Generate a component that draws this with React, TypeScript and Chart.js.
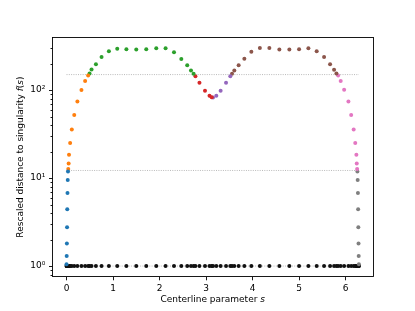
import React, { useEffect, useRef } from "react";
import { Chart, registerables } from "chart.js";

Chart.register(...registerables);

const TWO_PI = 2 * Math.PI;

// Tick values and labels
const xTicks = [0, 1, 2, 3, 4, 5, 6];
const yMajorTicks = [1, 10, 100];
const yTickLabels = ["10⁰", "10¹", "10²"];
const yMinorTicks = [0.8, 0.9, 2, 3, 4, 5, 6, 7, 8, 9, 20, 30, 40, 50, 60, 70, 80, 90, 200, 300];

// Threshold (dotted) levels
const thresholds = [1, 12.2, 150];

// Series data: centerline parameter s and rescaled distance f(s)
const sBlue = [0.0, 0.004, 0.008, 0.012, 0.016, 0.021, 0.026, 0.032];
const fBlue = [1.05, 1.3, 1.81, 2.77, 4.41, 6.76, 9.5, 11.9];

const sOrange = [0.038, 0.046, 0.054, 0.078, 0.114, 0.166, 0.234, 0.321, 0.4, 0.465];
const fOrange = [12.7, 14.6, 18.4, 25.0, 35.7, 52.0, 74.0, 100, 127, 146];

const sGreen = [0.495, 0.538, 0.632, 0.753, 0.911, 1.09, 1.287, 1.499, 1.714, 1.929, 2.129, 2.31, 2.467, 2.594, 2.675, 2.731];
const fGreen = [154, 171, 197, 237, 277, 295, 292, 289, 291, 298, 298, 269, 226, 191, 167, 153];

const sRed = [2.77, 2.857, 2.976, 3.073, 3.12];
const fRed = [144, 121, 98.5, 86, 83];

const sPurple = [3.148, 3.219, 3.312, 3.428, 3.52];
const fPurple = [82.6, 86, 98.5, 121, 144];

const sBrown = [3.557, 3.606, 3.699, 3.822, 3.972, 4.155, 4.359, 4.574, 4.789, 4.998, 5.198, 5.376, 5.535, 5.664, 5.75, 5.8];
const fBrown = [153, 167, 191, 227, 272, 301, 300, 290, 290, 292, 298, 277, 237, 197, 170, 154];

const sPink = [5.837, 5.892, 5.966, 6.058, 6.117, 6.171, 6.205, 6.229, 6.237, 6.245];
const fPink = [146, 126.5, 101, 74, 52.0, 35.7, 25.0, 18.4, 14.6, 12.7];

const sGray = [6.251, 6.257, 6.262, 6.267, 6.271, 6.275, 6.279, 6.283];
const fGray = [11.9, 9.5, 6.76, 4.41, 2.77, 1.81, 1.3, 1.05];

const sAll = [...sBlue, ...sOrange, ...sGreen, ...sRed, ...sPurple, ...sBrown, ...sPink, ...sGray];

const FONT = '"DejaVu Sans", sans-serif';

function pts(s: number[], f: number[]) {
  return s.map((v, i) => ({ x: v, y: f[i] }));
}

const framePlugin = {
  id: "mplFrame",
  afterDraw(chart: any) {
    const { ctx, chartArea: a, scales } = chart;
    const y = scales.y;
    ctx.save();
    ctx.strokeStyle = "#000";
    ctx.lineWidth = 0.9;
    const L = Math.round(a.left) + 0.5;
    const R = Math.round(a.right) - 0.5;
    const T = Math.round(a.top) + 0.5;
    const B = Math.round(a.bottom) - 0.5;
    ctx.strokeRect(L, T, R - L, B - T);
    ctx.beginPath();
    for (const v of yMajorTicks) {
      const p = Math.round(y.getPixelForValue(v)) + 0.5;
      ctx.moveTo(L - 3.5, p);
      ctx.lineTo(L, p);
    }
    for (const v of yMinorTicks) {
      const p = Math.round(y.getPixelForValue(v)) + 0.5;
      ctx.moveTo(L - 2, p);
      ctx.lineTo(L, p);
    }
    ctx.stroke();

    // axis labels with italic math parts
    ctx.fillStyle = "#000";
    ctx.textBaseline = "alphabetic";
    const normal = `9px ${FONT}`;
    const italic = `italic 9px ${FONT}`;
    const drawParts = (parts: [string, string][], cx: number) => {
      let w = 0;
      for (const [t, f] of parts) {
        ctx.font = f;
        w += ctx.measureText(t).width;
      }
      let x = cx - w / 2;
      for (const [t, f] of parts) {
        ctx.font = f;
        ctx.fillText(t, x, 0);
        x += ctx.measureText(t).width;
      }
    };
    const cx = (a.left + a.right) / 2;
    ctx.save();
    ctx.translate(0, 302);
    drawParts([["Centerline parameter ", normal], ["s", italic]], cx);
    ctx.restore();

    const cy = (a.top + a.bottom) / 2;
    ctx.save();
    ctx.translate(23, cy);
    ctx.rotate(-Math.PI / 2);
    drawParts(
      [
        ["Rescaled distance to singularity ", normal],
        ["f", italic],
        ["(", normal],
        ["s", italic],
        [")", normal],
      ],
      0
    );
    ctx.restore();
    ctx.restore();
  },
};

export default function App() {
  const ref = useRef<HTMLCanvasElement>(null);
  useEffect(() => {
    document.body.style.margin = "0";
    const colored: [number[], number[], string][] = [
      [sBlue, fBlue, "#1f77b4"],
      [sOrange, fOrange, "#ff7f0e"],
      [sGreen, fGreen, "#2ca02c"],
      [sRed, fRed, "#d62728"],
      [sPurple, fPurple, "#9467bd"],
      [sBrown, fBrown, "#8c564b"],
      [sPink, fPink, "#e377c2"],
      [sGray, fGray, "#7f7f7f"],
    ];
    const datasets: any[] = [];
    for (const t of thresholds) {
      datasets.push({
        type: "line",
        data: [
          { x: 0, y: t },
          { x: TWO_PI, y: t },
        ],
        borderColor: "rgba(0,0,0,0.35)",
        borderWidth: 0.8,
        borderDash: [1, 1.3],
        pointRadius: 0,
        order: 10,
      });
    }
    datasets.push({
      type: "scatter",
      data: sAll.map((s) => ({ x: s, y: 1 })),
      pointRadius: 2,
      pointBorderWidth: 0,
      pointBackgroundColor: "#111",
      order: 5,
    });
    for (const [s, f, c] of colored) {
      datasets.push({
        type: "scatter",
        data: pts(s, f),
        pointRadius: 2,
        pointBorderWidth: 0,
        pointBackgroundColor: c,
        order: 1,
      });
    }
    const chart = new Chart(ref.current!, {
      type: "scatter",
      data: { datasets },
      options: {
        animation: false,
        responsive: false,
        events: [],
        layout: { padding: { left: 0, top: 37.3, right: 41.5, bottom: 0 } },
        plugins: { legend: { display: false }, tooltip: { enabled: false } },
        scales: {
          x: {
            type: "linear",
            min: -0.314,
            max: 6.597,
            afterBuildTicks: (scale: any) => {
              scale.ticks = xTicks.map((v) => ({ value: v }));
            },
            afterFit: (scale: any) => {
              scale.height = 311 - 276.8;
            },
            grid: {
              display: true,
              drawOnChartArea: false,
              drawTicks: true,
              tickLength: 3.5,
              color: "#000",
              lineWidth: 0.9,
            },
            border: { display: false },
            ticks: {
              autoSkip: false,
              maxRotation: 0,
              padding: 2.5,
              color: "#000",
              font: { family: FONT, size: 9 },
              callback: (v: any) => String(v),
            },
          },
          y: {
            type: "logarithmic",
            min: 0.755,
            max: 398,
            afterBuildTicks: (scale: any) => {
              scale.ticks = yMajorTicks.map((v) => ({ value: v }));
            },
            afterFit: (scale: any) => {
              scale.width = 51.9;
            },
            grid: { display: false, drawTicks: true, tickLength: 3.5 },
            border: { display: false },
            ticks: {
              autoSkip: false,
              padding: 3,
              color: "#000",
              font: { family: FONT, size: 9 },
              callback: (v: any) => {
                const i = yMajorTicks.indexOf(Number(v));
                return i >= 0 ? yTickLabels[i] : "";
              },
            },
          },
        },
      },
      plugins: [framePlugin],
    });
    return () => chart.destroy();
  }, []);
  return (
    <div style={{ position: "fixed", left: 0, top: 0, width: 415, height: 311 }}>
      <canvas ref={ref} width={415} height={311} style={{ display: "block" }} />
    </div>
  );
}
